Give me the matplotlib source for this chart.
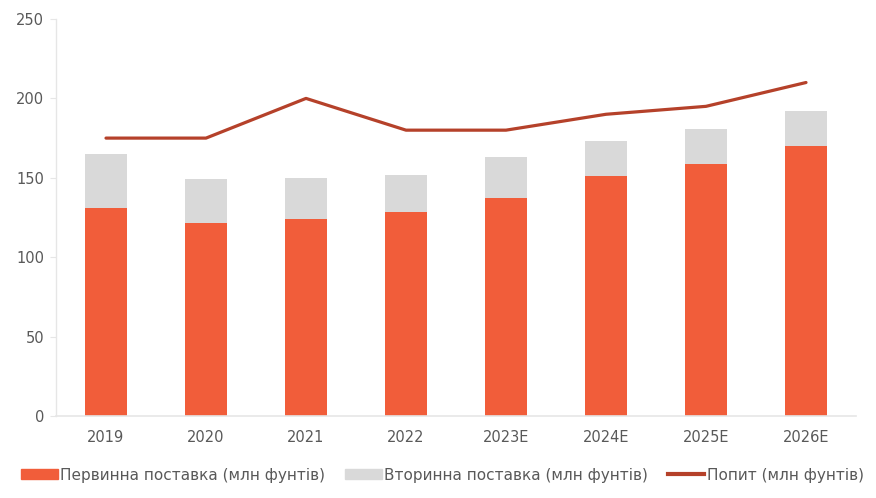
import numpy as np
import matplotlib.pyplot as plt
from matplotlib.patches import Patch
from matplotlib.lines import Line2D

plt.rcParams['font.family'] = ['DejaVu Sans']

years = ["2019", "2020", "2021", "2022", "2023E", "2024E", "2025E", "2026E"]
primary = [131, 121.5, 124, 128.5, 137, 151, 159, 170]
secondary = [34, 27.5, 26, 23.5, 26, 22, 22, 22]
demand = [175, 175, 200, 180, 180, 190, 195, 210]

ORANGE = "#F15D3A"
GREY = "#D9D9D9"
DARK = "#B5412A"
TXT = "#595959"

fig = plt.figure(figsize=(8.76, 4.98), dpi=100)
ax = fig.add_axes([56 / 876, 1 - 416 / 498, 800 / 876, 397 / 498])

x = np.arange(len(years))
ax.bar(x, primary, width=0.42, color=ORANGE, zorder=2)
ax.bar(x, secondary, width=0.42, bottom=primary, color=GREY, zorder=2)
ax.plot(x, demand, color=DARK, lw=2.3, solid_capstyle="round", zorder=3)

ax.set_xlim(-0.5, len(years) - 0.5)
ax.set_ylim(0, 250)
ax.set_yticks(range(0, 251, 50))
ax.set_xticks(x)
ax.set_xticklabels(years)

for s in ["top", "right"]:
    ax.spines[s].set_visible(False)
ax.spines["left"].set_color("#E6E6E6")
ax.spines["bottom"].set_color("#E6E6E6")
ax.spines["left"].set_linewidth(1)
ax.spines["bottom"].set_linewidth(1.2)
ax.tick_params(axis="y", length=4, color="#E6E6E6", labelcolor=TXT,
               labelsize=10.5, pad=4.5)
ax.tick_params(axis="x", length=0, labelcolor=TXT, labelsize=10.5, pad=10)

handles = [Patch(color=ORANGE), Patch(color=GREY),
           Line2D([], [], color=DARK, lw=3)]
labels = ["Первинна поставка (млн фунтів)", "Вторинна поставка (млн фунтів)",
          "Попит (млн фунтів)"]
fig.legend(handles, labels, loc="center", bbox_to_anchor=(0.505, 1 - 475 / 498),
           ncol=3, frameon=False, fontsize=11, labelcolor=TXT,
           handlelength=2.4, handleheight=0.6, handletextpad=0.15,
           columnspacing=1.3)

fig.savefig("out.png", dpi=100)
